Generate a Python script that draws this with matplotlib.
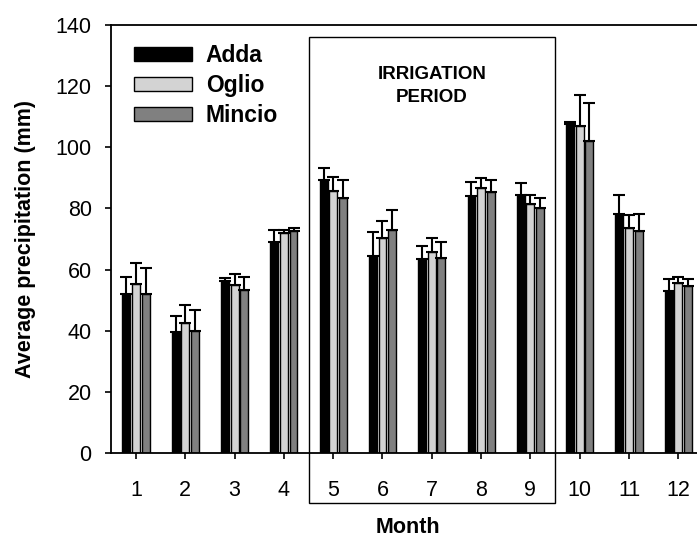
import matplotlib
matplotlib.use("Agg")
import matplotlib.pyplot as plt
import numpy as np
from matplotlib.patches import Rectangle

plt.rcParams['font.family'] = ['Liberation Sans', 'DejaVu Sans']

months = [1, 2, 3, 4, 5, 6, 7, 8, 9, 10, 11, 12]
series = ["Adda", "Oglio", "Mincio"]
adda_mean = [51.9, 39.5, 56.3, 68.9, 89.2, 64.3, 63.4, 84.0, 84.5, 107.5, 78.1, 53.1]
adda_top = [57.6, 44.9, 57.4, 72.9, 93.1, 72.2, 67.7, 88.6, 88.2, 108.4, 84.4, 56.8]
oglio_mean = [55.2, 42.5, 55.0, 72.0, 85.7, 70.4, 65.9, 86.8, 81.5, 107.0, 73.7, 55.5]
oglio_top = [62.0, 48.3, 58.6, 72.8, 90.4, 75.9, 70.2, 90.0, 84.5, 117.1, 77.8, 57.5]
mincio_mean = [52.0, 39.8, 53.3, 72.5, 83.5, 72.9, 63.9, 85.5, 80.1, 102.2, 72.6, 54.6]
mincio_top = [60.4, 46.9, 57.7, 73.7, 89.3, 79.4, 69.1, 89.2, 83.5, 114.6, 78.1, 56.9]
colors = ["#000000", "#d3d3d3", "#808080"]
y_ticks = [0, 20, 40, 60, 80, 100, 120, 140]
irrigation_months = (5, 9)

means = [adda_mean, oglio_mean, mincio_mean]
tops = [adda_top, oglio_top, mincio_top]

W, H = 697, 538
fig = plt.figure(figsize=(W / 100, H / 100), dpi=100)
px_per_unit = 49.3
xmin, xmax = 0.487, 12.56
left_px, bottom_px, top_px = 110.7, 453, 25
ax = fig.add_axes([left_px / W, 1 - bottom_px / H,
                   (xmax - xmin) * px_per_unit / W, (bottom_px - top_px) / H])

x = np.array(months, dtype=float)
offset = 0.195
width = 0.16
handles = []
for i, (m, t, c) in enumerate(zip(means, tops, colors)):
    pos = x + (i - 1) * offset
    err = np.array(t) - np.array(m)
    b = ax.bar(pos, m, width=width, color=c, edgecolor="black", linewidth=1.0,
               label=series[i], zorder=2)
    ax.errorbar(pos, m, yerr=[np.zeros_like(err), err], fmt="none", ecolor="black",
                elinewidth=1.5, capsize=4.6, capthick=1.5, zorder=3)
    handles.append(b)

ax.set_xlim(xmin, xmax)
ax.set_ylim(0, 140)
ax.set_xticks(months)
ax.set_xticklabels([str(m) for m in months])
ax.set_yticks(y_ticks)
ax.tick_params(direction="out", length=4.3, width=1.2, labelsize=15.5)
ax.tick_params(axis="y", pad=9.4)
ax.tick_params(axis="x", pad=15)
for s in ["left", "top", "bottom", "right"]:
    ax.spines[s].set_linewidth(1.3)

ax.set_ylabel("Average precipitation (mm)", fontsize=15.5, fontweight="bold", labelpad=14)
ax.set_xlabel("Month", fontsize=15.5, fontweight="bold", labelpad=12)

# Irrigation period box
y_top_box = 136
y_bot_box = -16.3
rect = Rectangle((irrigation_months[0] - 0.5, y_bot_box), irrigation_months[1] - irrigation_months[0] + 1,
                 y_top_box - y_bot_box, fill=False, edgecolor="black", linewidth=1.0,
                 clip_on=False, zorder=4)
ax.add_patch(rect)
ax.text((irrigation_months[0] + irrigation_months[1]) / 2, 120.1, "IRRIGATION\nPERIOD",
        ha="center", va="center", fontsize=13.5, fontweight="bold", linespacing=1.5)

leg = ax.legend(handles=handles, loc="upper left", bbox_to_anchor=(0.0, 1.0093),
                frameon=False, prop={"size": 16.5, "weight": "bold"},
                handlelength=2.55, handleheight=0.56, labelspacing=0.3,
                handletextpad=0.6, borderaxespad=0.6)

fig.savefig("out.png", dpi=100)
